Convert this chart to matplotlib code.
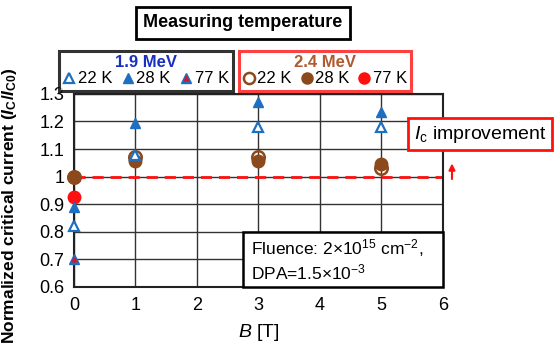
#!/usr/bin/env python3
"""Normalized critical current vs field for two ion energies."""

import matplotlib

matplotlib.use("Agg")
import matplotlib.pyplot as plt
from matplotlib.lines import Line2D
from matplotlib.patches import FancyArrowPatch, Rectangle

B_FIELD = [0, 1, 3, 5]

# 1.9 MeV, triangles
MEV19_22K = [0.82, 1.08, 1.18, 1.18]
MEV19_28K = [0.89, 1.195, 1.27, 1.235]
MEV19_77K_B = [0]
MEV19_77K = [0.70]

# 2.4 MeV, circles
MEV24_22K = [1.0, 1.07, 1.07, 1.03]
MEV24_28K = [1.0, 1.055, 1.055, 1.045]
MEV24_77K_B = [0]
MEV24_77K = [0.925]

BLUE = "#1f6fc0"
BROWN = "#8c4a1c"
RED = "#ff1010"

plt.rcParams["font.family"] = ["Liberation Sans", "DejaVu Sans"]
plt.rcParams["mathtext.fontset"] = "custom"
plt.rcParams["mathtext.rm"] = "Liberation Sans"
plt.rcParams["mathtext.it"] = "Liberation Sans:italic"
plt.rcParams["mathtext.bf"] = "Liberation Sans:bold"
plt.rcParams["mathtext.bfit"] = "Liberation Sans:bold:italic"

fig = plt.figure(figsize=(5.58, 3.53), dpi=100)
ax = fig.add_axes([0.1326, 0.187, 0.661, 0.547])

ax.set_xlim(0, 6)
ax.set_ylim(0.6, 1.3)
ax.set_xticks(range(0, 7))
ax.set_yticks([0.6, 0.7, 0.8, 0.9, 1.0, 1.1, 1.2, 1.3])
ax.set_yticklabels(["0.6", "0.7", "0.8", "0.9", "1", "1.1", "1.2", "1.3"])
ax.tick_params(length=0, labelsize=13, pad=7)
ax.grid(True, color="#333333", linewidth=1.0)
ax.set_axisbelow(True)
for spine in ax.spines.values():
    spine.set_linewidth(1.5)
    spine.set_color("#222222")

ax.axhline(1.0, color=RED, linestyle=(0, (4, 2.5)), linewidth=2, zorder=2)

ax.plot(B_FIELD, MEV24_28K, "o", color=BROWN, markersize=9, zorder=3, clip_on=False)
ax.plot(B_FIELD, MEV24_22K, "o", mfc="none", mec=BROWN, mew=1.8, markersize=9,
        zorder=4, clip_on=False)
ax.plot(MEV24_77K_B, MEV24_77K, "o", color=RED, markersize=9, zorder=4, clip_on=False)
ax.plot(B_FIELD, MEV19_22K, "^", mfc="white", mec=BLUE, mew=1.6, markersize=7.5,
        zorder=5, clip_on=False)
ax.plot(B_FIELD, MEV19_28K, "^", color=BLUE, markersize=7.5, zorder=5, clip_on=False)
ax.plot(MEV19_77K_B, MEV19_77K, "^", color=BLUE, markersize=7.5, zorder=5, clip_on=False)
ax.plot(MEV19_77K_B, MEV19_77K, "^", color="#c0203a", markersize=3.5, zorder=6,
        clip_on=False)

ax.set_xlabel("$B$ [T]", fontsize=14, labelpad=6)
ax.set_ylabel("Normalized critical current ($\\mathbfit{I}_{\\mathbf{C}}$/$\\mathbfit{I}_{\\mathbf{C0}}$)",
              fontsize=12.5, fontweight="bold")
ax.yaxis.set_label_coords(-0.148, 0.42)

# fluence annotation box, anchored to the lower-right corner of the axes
ax.add_patch(Rectangle((0.458, 0.0), 0.542, 0.285, transform=ax.transAxes,
                       fc="white", ec="black", lw=1.8, zorder=7, clip_on=False))
ax.text(0.48, 0.14, "Fluence: 2×10$^{15}$ cm$^{-2}$,\nDPA=1.5×10$^{-3}$",
        transform=ax.transAxes, fontsize=12.5, va="center", ha="left", zorder=8,
        linespacing=1.2)

# legends
h22 = Line2D([], [], ls="none", marker="^", mfc="white", mec=BLUE, mew=1.6, ms=7)
h28 = Line2D([], [], ls="none", marker="^", color=BLUE, ms=7)
h77 = (Line2D([], [], ls="none", marker="^", color=BLUE, ms=7),
       Line2D([], [], ls="none", marker="^", color="#c0203a", ms=3.5))
leg1 = fig.legend([h22, h28, h77], ["22 K", "28 K", "77 K"], ncol=3,
                  loc="center", bbox_to_anchor=(0.262, 0.80), fontsize=12,
                  title="1.9 MeV", handlelength=0.7, handletextpad=0.15,
                  columnspacing=0.6, borderpad=0.25, labelspacing=0.1,
                  fancybox=False, borderaxespad=0)
leg1.get_frame().set_edgecolor("black")
leg1.get_frame().set_linewidth(2.2)
leg1.get_title().set_color("#1a2fc0")
leg1.get_title().set_fontweight("bold")
leg1.get_title().set_fontsize(12)

c22 = Line2D([], [], ls="none", marker="o", mfc="none", mec=BROWN, mew=1.8, ms=8)
c28 = Line2D([], [], ls="none", marker="o", color=BROWN, ms=8)
c77 = Line2D([], [], ls="none", marker="o", color=RED, ms=8)
leg2 = fig.legend([c22, c28, c77], ["22 K", "28 K", "77 K"], ncol=3,
                  loc="center", bbox_to_anchor=(0.5825, 0.80), fontsize=12,
                  title="2.4 MeV", handlelength=0.7, handletextpad=0.15,
                  columnspacing=0.55, borderpad=0.25, labelspacing=0.1,
                  fancybox=False, borderaxespad=0)
leg2.get_frame().set_edgecolor(RED)
leg2.get_frame().set_linewidth(2.2)
leg2.get_title().set_color("#b05a30")
leg2.get_title().set_fontweight("bold")
leg2.get_title().set_fontsize(12)

fig.text(0.435, 0.935, "Measuring temperature", fontsize=13, fontweight="bold",
         ha="center", va="center",
         bbox=dict(boxstyle="square,pad=0.4", fc="white", ec="black", lw=2))

fig.text(0.742, 0.62, "$I_{\\mathrm{c}}$ improvement", fontsize=14, ha="left",
         va="center", zorder=8,
         bbox=dict(boxstyle="square,pad=0.3", fc="white", ec=RED, lw=2))

arrow = FancyArrowPatch((0.81, 0.485), (0.81, 0.545), transform=fig.transFigure,
                        arrowstyle="-|>", mutation_scale=9, color=RED, lw=1.5)
fig.patches.append(arrow)

fig.savefig("out.png", dpi=100)
